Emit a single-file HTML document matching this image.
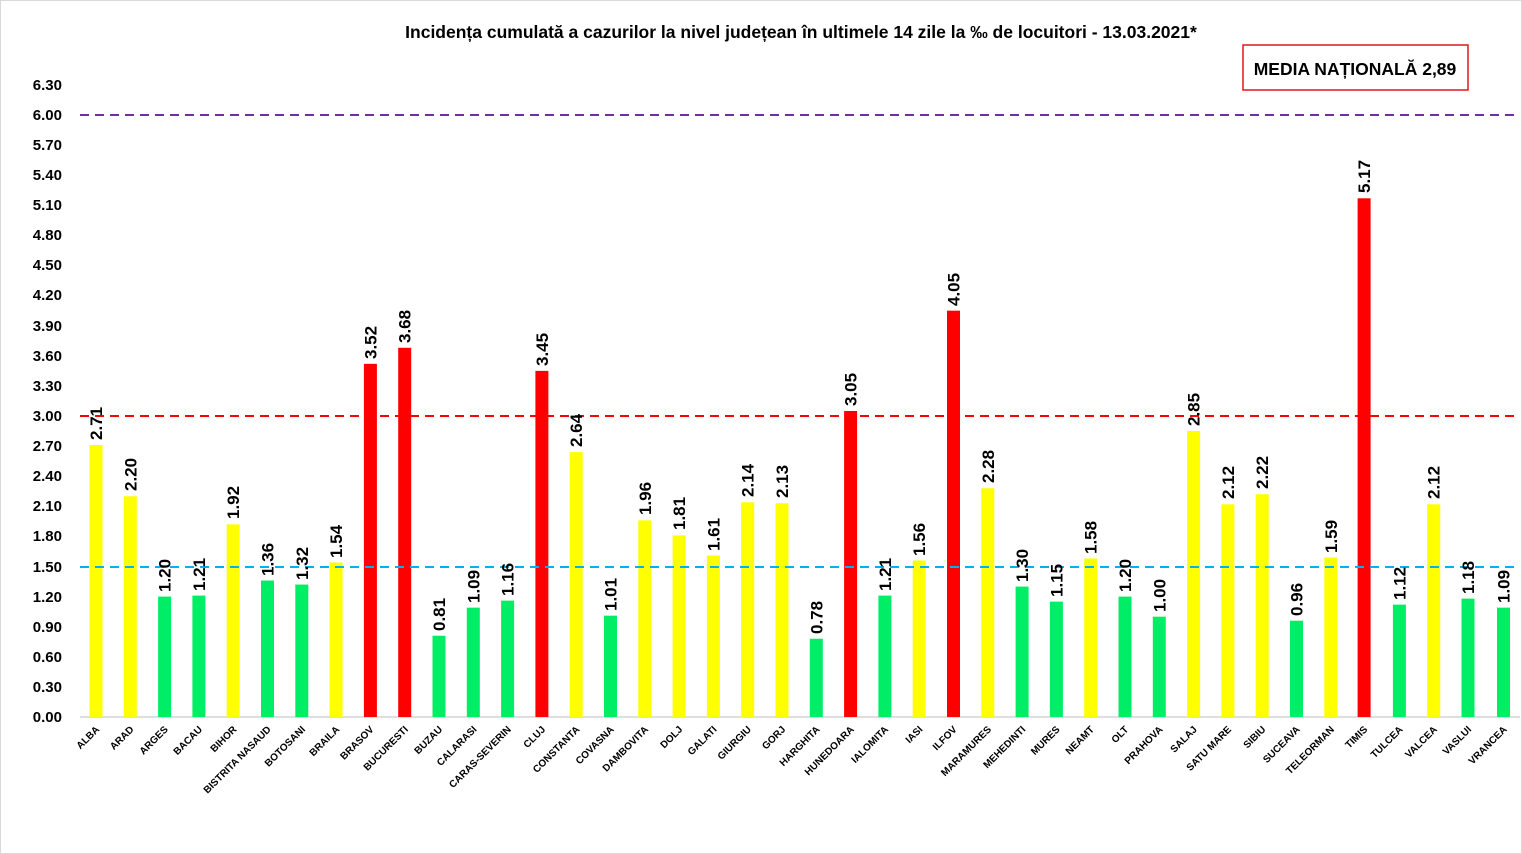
<!DOCTYPE html>
<html><head><meta charset="utf-8"><style>
html,body{margin:0;padding:0;background:#fff}
svg{display:block;font-family:"Liberation Sans",sans-serif}
.t{font-size:15px;font-weight:bold;text-anchor:end}
.v{font-size:17px;font-weight:bold}
.c{font-size:10px;font-weight:bold;text-anchor:end}
.y{fill:#FFFF00}.g{fill:#00EE66}.r{fill:#FF0000}
</style></head><body>
<svg width="1522" height="854" viewBox="0 0 1522 854" xmlns="http://www.w3.org/2000/svg">
<rect x="0.5" y="0.5" width="1521" height="853" fill="#fff" stroke="#d9d9d9"/>
<text x="801" y="38" font-size="17.5" font-weight="bold" text-anchor="middle">Incidența cumulată a cazurilor la nivel județean în ultimele 14 zile la ‰ de locuitori - 13.03.2021*</text>
<rect x="1243" y="45" width="225" height="45" fill="#fff" stroke="#E0161E" stroke-width="1.5"/>
<text x="1355" y="75" font-size="17.5" font-weight="bold" text-anchor="middle">MEDIA NAȚIONALĂ  2,89</text>
<g class="t">
<text x="62" y="722">0.00</text><text x="62" y="692">0.30</text><text x="62" y="662">0.60</text><text x="62" y="632">0.90</text><text x="62" y="602">1.20</text><text x="62" y="572">1.50</text><text x="62" y="541">1.80</text><text x="62" y="511">2.10</text><text x="62" y="481">2.40</text><text x="62" y="451">2.70</text><text x="62" y="421">3.00</text><text x="62" y="391">3.30</text><text x="62" y="361">3.60</text><text x="62" y="331">3.90</text><text x="62" y="300">4.20</text><text x="62" y="270">4.50</text><text x="62" y="240">4.80</text><text x="62" y="210">5.10</text><text x="62" y="180">5.40</text><text x="62" y="150">5.70</text><text x="62" y="120">6.00</text><text x="62" y="90">6.30</text>
</g>
<line x1="80" y1="717" x2="1520" y2="717" stroke="#bfbfbf"/>
<g transform="translate(0,717) scale(1,-100.33)">
<rect class="y" x="89.5" y="0" width="13" height="2.71"/>
<rect class="y" x="123.8" y="0" width="13" height="2.20"/>
<rect class="g" x="158.1" y="0" width="13" height="1.20"/>
<rect class="g" x="192.4" y="0" width="13" height="1.21"/>
<rect class="y" x="226.7" y="0" width="13" height="1.92"/>
<rect class="g" x="261" y="0" width="13" height="1.36"/>
<rect class="g" x="295.3" y="0" width="13" height="1.32"/>
<rect class="y" x="329.6" y="0" width="13" height="1.54"/>
<rect class="r" x="363.9" y="0" width="13" height="3.52"/>
<rect class="r" x="398.2" y="0" width="13" height="3.68"/>
<rect class="g" x="432.5" y="0" width="13" height="0.81"/>
<rect class="g" x="466.8" y="0" width="13" height="1.09"/>
<rect class="g" x="501.1" y="0" width="13" height="1.16"/>
<rect class="r" x="535.4" y="0" width="13" height="3.45"/>
<rect class="y" x="569.7" y="0" width="13" height="2.64"/>
<rect class="g" x="604" y="0" width="13" height="1.01"/>
<rect class="y" x="638.3" y="0" width="13" height="1.96"/>
<rect class="y" x="672.6" y="0" width="13" height="1.81"/>
<rect class="y" x="706.9" y="0" width="13" height="1.61"/>
<rect class="y" x="741.2" y="0" width="13" height="2.14"/>
<rect class="y" x="775.5" y="0" width="13" height="2.13"/>
<rect class="g" x="809.8" y="0" width="13" height="0.78"/>
<rect class="r" x="844.1" y="0" width="13" height="3.05"/>
<rect class="g" x="878.4" y="0" width="13" height="1.21"/>
<rect class="y" x="912.7" y="0" width="13" height="1.56"/>
<rect class="r" x="947" y="0" width="13" height="4.05"/>
<rect class="y" x="981.3" y="0" width="13" height="2.28"/>
<rect class="g" x="1015.6" y="0" width="13" height="1.30"/>
<rect class="g" x="1049.9" y="0" width="13" height="1.15"/>
<rect class="y" x="1084.2" y="0" width="13" height="1.58"/>
<rect class="g" x="1118.5" y="0" width="13" height="1.20"/>
<rect class="g" x="1152.8" y="0" width="13" height="1.00"/>
<rect class="y" x="1187.1" y="0" width="13" height="2.85"/>
<rect class="y" x="1221.4" y="0" width="13" height="2.12"/>
<rect class="y" x="1255.7" y="0" width="13" height="2.22"/>
<rect class="g" x="1290" y="0" width="13" height="0.96"/>
<rect class="y" x="1324.3" y="0" width="13" height="1.59"/>
<rect class="r" x="1357.6" y="0" width="13" height="5.17"/>
<rect class="g" x="1392.9" y="0" width="13" height="1.12"/>
<rect class="y" x="1427.2" y="0" width="13" height="2.12"/>
<rect class="g" x="1461.5" y="0" width="13" height="1.18"/>
<rect class="g" x="1497" y="0" width="13" height="1.09"/>
</g>
<line x1="80" y1="115" x2="1520" y2="115" stroke="#7030A0" stroke-width="2" stroke-dasharray="9,6"/>
<line x1="80" y1="416" x2="1520" y2="416" stroke="#FF0000" stroke-width="2" stroke-dasharray="9,6"/>
<line x1="80" y1="567" x2="1520" y2="567" stroke="#00B0F0" stroke-width="2" stroke-dasharray="9,6"/>
<g class="v">
<text transform="translate(102,440) rotate(-90)">2.71</text>
<text transform="translate(136.3,491) rotate(-90)">2.20</text>
<text transform="translate(170.6,592) rotate(-90)">1.20</text>
<text transform="translate(204.9,591) rotate(-90)">1.21</text>
<text transform="translate(239.2,519) rotate(-90)">1.92</text>
<text transform="translate(273.5,576) rotate(-90)">1.36</text>
<text transform="translate(307.8,580) rotate(-90)">1.32</text>
<text transform="translate(342.1,558) rotate(-90)">1.54</text>
<text transform="translate(376.4,359) rotate(-90)">3.52</text>
<text transform="translate(410.7,343) rotate(-90)">3.68</text>
<text transform="translate(445,631) rotate(-90)">0.81</text>
<text transform="translate(479.3,603) rotate(-90)">1.09</text>
<text transform="translate(513.6,596) rotate(-90)">1.16</text>
<text transform="translate(547.9,366) rotate(-90)">3.45</text>
<text transform="translate(582.2,447) rotate(-90)">2.64</text>
<text transform="translate(616.5,611) rotate(-90)">1.01</text>
<text transform="translate(650.8,515) rotate(-90)">1.96</text>
<text transform="translate(685.1,530) rotate(-90)">1.81</text>
<text transform="translate(719.4,551) rotate(-90)">1.61</text>
<text transform="translate(753.7,497) rotate(-90)">2.14</text>
<text transform="translate(788,498) rotate(-90)">2.13</text>
<text transform="translate(822.3,634) rotate(-90)">0.78</text>
<text transform="translate(856.6,406) rotate(-90)">3.05</text>
<text transform="translate(890.9,591) rotate(-90)">1.21</text>
<text transform="translate(925.2,556) rotate(-90)">1.56</text>
<text transform="translate(959.5,306) rotate(-90)">4.05</text>
<text transform="translate(993.8,483) rotate(-90)">2.28</text>
<text transform="translate(1028.1,582) rotate(-90)">1.30</text>
<text transform="translate(1062.4,597) rotate(-90)">1.15</text>
<text transform="translate(1096.7,554) rotate(-90)">1.58</text>
<text transform="translate(1131,592) rotate(-90)">1.20</text>
<text transform="translate(1165.3,612) rotate(-90)">1.00</text>
<text transform="translate(1199.6,426) rotate(-90)">2.85</text>
<text transform="translate(1233.9,499) rotate(-90)">2.12</text>
<text transform="translate(1268.2,489) rotate(-90)">2.22</text>
<text transform="translate(1302.5,616) rotate(-90)">0.96</text>
<text transform="translate(1336.8,553) rotate(-90)">1.59</text>
<text transform="translate(1370.1,193) rotate(-90)">5.17</text>
<text transform="translate(1405.4,600) rotate(-90)">1.12</text>
<text transform="translate(1439.7,499) rotate(-90)">2.12</text>
<text transform="translate(1474,594) rotate(-90)">1.18</text>
<text transform="translate(1509.5,603) rotate(-90)">1.09</text>
</g>
<g class="c">
<text transform="translate(100,730) rotate(-45)">ALBA</text>
<text transform="translate(134.3,730) rotate(-45)">ARAD</text>
<text transform="translate(168.6,730) rotate(-45)">ARGES</text>
<text transform="translate(202.9,730) rotate(-45)">BACAU</text>
<text transform="translate(237.2,730) rotate(-45)">BIHOR</text>
<text transform="translate(271.5,730) rotate(-45)">BISTRITA NASAUD</text>
<text transform="translate(305.8,730) rotate(-45)">BOTOSANI</text>
<text transform="translate(340.1,730) rotate(-45)">BRAILA</text>
<text transform="translate(374.4,730) rotate(-45)">BRASOV</text>
<text transform="translate(408.7,730) rotate(-45)">BUCURESTI</text>
<text transform="translate(443,730) rotate(-45)">BUZAU</text>
<text transform="translate(477.3,730) rotate(-45)">CALARASI</text>
<text transform="translate(511.6,730) rotate(-45)">CARAS-SEVERIN</text>
<text transform="translate(545.9,730) rotate(-45)">CLUJ</text>
<text transform="translate(580.2,730) rotate(-45)">CONSTANTA</text>
<text transform="translate(614.5,730) rotate(-45)">COVASNA</text>
<text transform="translate(648.8,730) rotate(-45)">DAMBOVITA</text>
<text transform="translate(683.1,730) rotate(-45)">DOLJ</text>
<text transform="translate(717.4,730) rotate(-45)">GALATI</text>
<text transform="translate(751.7,730) rotate(-45)">GIURGIU</text>
<text transform="translate(786,730) rotate(-45)">GORJ</text>
<text transform="translate(820.3,730) rotate(-45)">HARGHITA</text>
<text transform="translate(854.6,730) rotate(-45)">HUNEDOARA</text>
<text transform="translate(888.9,730) rotate(-45)">IALOMITA</text>
<text transform="translate(923.2,730) rotate(-45)">IASI</text>
<text transform="translate(957.5,730) rotate(-45)">ILFOV</text>
<text transform="translate(991.8,730) rotate(-45)">MARAMURES</text>
<text transform="translate(1026.1,730) rotate(-45)">MEHEDINTI</text>
<text transform="translate(1060.4,730) rotate(-45)">MURES</text>
<text transform="translate(1094.7,730) rotate(-45)">NEAMT</text>
<text transform="translate(1129,730) rotate(-45)">OLT</text>
<text transform="translate(1163.3,730) rotate(-45)">PRAHOVA</text>
<text transform="translate(1197.6,730) rotate(-45)">SALAJ</text>
<text transform="translate(1231.9,730) rotate(-45)">SATU MARE</text>
<text transform="translate(1266.2,730) rotate(-45)">SIBIU</text>
<text transform="translate(1300.5,730) rotate(-45)">SUCEAVA</text>
<text transform="translate(1334.8,730) rotate(-45)">TELEORMAN</text>
<text transform="translate(1368.1,730) rotate(-45)">TIMIS</text>
<text transform="translate(1403.4,730) rotate(-45)">TULCEA</text>
<text transform="translate(1437.7,730) rotate(-45)">VALCEA</text>
<text transform="translate(1472,730) rotate(-45)">VASLUI</text>
<text transform="translate(1507.5,730) rotate(-45)">VRANCEA</text>
</g>
</svg>
</body></html>
